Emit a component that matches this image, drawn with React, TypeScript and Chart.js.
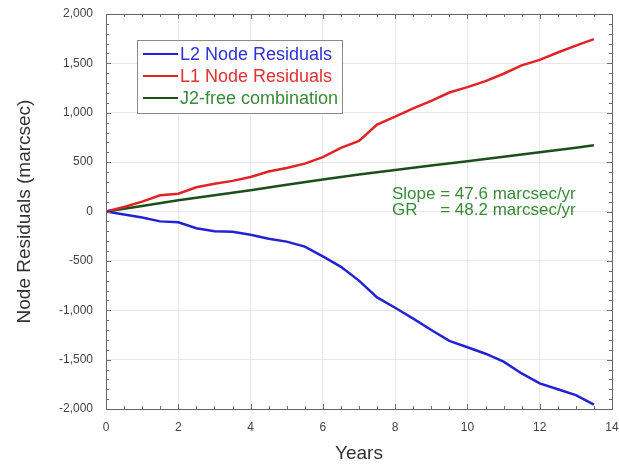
import React, { useEffect, useRef } from "react";
import { Chart, registerables } from "chart.js";

Chart.register(...registerables);

// ---- data ----
const years = [0, 0.5, 1, 1.5, 2, 2.5, 3, 3.5, 4, 4.5, 5, 5.5, 6, 6.5, 7, 7.5, 8, 8.5, 9, 9.5, 10, 10.5, 11, 11.5, 12, 12.5, 13, 13.5];
const l2Values = [0, -30, -60, -100, -110, -170, -200, -205, -235, -275, -305, -355, -455, -560, -700, -870, -975, -1085, -1200, -1310, -1375, -1440, -1520, -1640, -1740, -1800, -1860, -1955];
const l1Values = [0, 45, 100, 165, 180, 245, 280, 310, 350, 405, 440, 485, 550, 645, 715, 880, 960, 1045, 1120, 1205, 1260, 1320, 1395, 1480, 1535, 1610, 1680, 1745];
const j2Years = [0, 1, 2, 3, 4, 5, 6, 7, 8, 9, 10, 11, 12, 13, 13.5];
const j2Values = [0, 55, 115, 165, 215, 270, 325, 375, 420, 465, 510, 555, 600, 645, 670];

const seriesNames = ["L2 Node Residuals", "L1 Node Residuals", "J2-free combination"];
const annotationLines = ["Slope = 47.6 marcsec/yr", "GR", "= 48.2 marcsec/yr"];
const xTitle = "Years";
const yTitle = "Node Residuals (marcsec)";

const FONT = "'Liberation Sans', Arial, Helvetica, sans-serif";
const lineColors = ["#2222d4", "#e02424", "#1c4f1c"];
const textColors = ["#3030d8", "#e33030", "#3a8a3a"];

const frameTicks = {
  id: "frameTicks",
  afterDatasetsDraw(chart: any) {
    const { ctx, chartArea } = chart;
    const xs = chart.scales.x;
    const ys = chart.scales.y;
    const { left, right, top, bottom } = chartArea;
    ctx.save();
    ctx.strokeStyle = "#707070";
    ctx.lineWidth = 1;
    ctx.beginPath();
    for (let i = 0; i <= 28; i++) {
      const v = i * 0.5;
      const px = Math.round(xs.getPixelForValue(v)) + 0.5;
      const len = i % 4 === 0 ? 5 : 3;
      ctx.moveTo(px, bottom);
      ctx.lineTo(px, bottom - len);
      ctx.moveTo(px, top);
      ctx.lineTo(px, top + len);
    }
    for (let i = -20; i <= 20; i++) {
      const v = i * 100;
      const py = Math.round(ys.getPixelForValue(v)) + 0.5;
      const len = i % 5 === 0 ? 5 : 3;
      ctx.moveTo(left, py);
      ctx.lineTo(left + len, py);
      ctx.moveTo(right, py);
      ctx.lineTo(right - len, py);
    }
    ctx.stroke();
    ctx.strokeStyle = "#666666";
    ctx.strokeRect(Math.round(left) + 0.5, Math.round(top) + 0.5, Math.round(right - left), Math.round(bottom - top));
    ctx.restore();
  },
  afterDraw(chart: any) {
    const { ctx } = chart;
    ctx.save();
    // legend box
    const bx = 137, by = 40, bw = 205, bh = 73;
    ctx.fillStyle = "#ffffff";
    ctx.fillRect(bx, by, bw, bh);
    ctx.strokeStyle = "#8a8a8a";
    ctx.lineWidth = 1;
    ctx.strokeRect(bx + 0.5, by + 0.5, bw, bh);
    const rows = [54, 76, 98];
    ctx.font = `18px ${FONT}`;
    ctx.textBaseline = "middle";
    ctx.textAlign = "left";
    seriesNames.forEach((name, i) => {
      ctx.strokeStyle = lineColors[i];
      ctx.lineWidth = 2;
      ctx.beginPath();
      ctx.moveTo(143, rows[i]);
      ctx.lineTo(178, rows[i]);
      ctx.stroke();
      ctx.fillStyle = textColors[i];
      ctx.fillText(name, 180, rows[i] + 1);
    });
    // annotation
    ctx.fillStyle = "#3a8a3a";
    ctx.font = `17px ${FONT}`;
    ctx.fillText(annotationLines[0], 392, 194);
    const eqX = 392 + ctx.measureText("Slope ").width;
    ctx.fillText(annotationLines[1], 392, 210);
    ctx.fillText(annotationLines[2], eqX, 210);
    ctx.restore();
  },
};

export default function App() {
  const ref = useRef<HTMLCanvasElement | null>(null);
  useEffect(() => {
    if (!ref.current) return;
    const chart = new Chart(ref.current, {
      type: "line",
      data: {
        datasets: [
          {
            label: seriesNames[0],
            data: years.map((x, i) => ({ x, y: l2Values[i] })),
            borderColor: lineColors[0],
            borderWidth: 2.5,
            pointRadius: 0,
            tension: 0,
          },
          {
            label: seriesNames[1],
            data: years.map((x, i) => ({ x, y: l1Values[i] })),
            borderColor: lineColors[1],
            borderWidth: 2.5,
            pointRadius: 0,
            tension: 0,
          },
          {
            label: seriesNames[2],
            data: j2Years.map((x, i) => ({ x, y: j2Values[i] })),
            borderColor: lineColors[2],
            borderWidth: 2.5,
            pointRadius: 0,
            tension: 0,
          },
        ],
      },
      options: {
        animation: false,
        responsive: true,
        maintainAspectRatio: false,
        layout: { padding: { top: 14, right: 7, left: 0, bottom: 0 } },
        plugins: { legend: { display: false }, tooltip: { enabled: false } },
        scales: {
          x: {
            type: "linear",
            min: 0,
            max: 14,
            ticks: {
              stepSize: 2,
              padding: 11,
              color: "#444444",
              font: { family: FONT, size: 12 },
            },
            grid: { color: "#e8e8e8", drawTicks: false },
            border: { display: false },
            title: {
              display: true,
              text: xTitle,
              color: "#333333",
              font: { family: FONT, size: 19 },
              padding: { top: 0, bottom: 0 },
            },
            afterFit: (s: any) => {
              s.height = 56;
              s.paddingLeft = 0;
              s.paddingRight = 0;
            },
          },
          y: {
            type: "linear",
            min: -2000,
            max: 2000,
            ticks: {
              stepSize: 500,
              padding: 13,
              color: "#444444",
              font: { family: FONT, size: 12 },
              callback: (v: any) => Number(v).toLocaleString("en-US"),
            },
            grid: { color: "#e8e8e8", drawTicks: false },
            border: { display: false },
            title: {
              display: true,
              text: yTitle,
              color: "#333333",
              font: { family: FONT, size: 19 },
              padding: { top: 13, bottom: 0 },
            },
            afterFit: (s: any) => {
              s.width = 106;
              s.paddingTop = 0;
              s.paddingBottom = 0;
            },
          },
        },
      },
      plugins: [frameTicks],
    });
    return () => chart.destroy();
  }, []);
  return (
    <div style={{ position: "absolute", left: 0, top: 0, width: 619, height: 465, background: "#fff" }}>
      <canvas ref={ref} />
    </div>
  );
}
